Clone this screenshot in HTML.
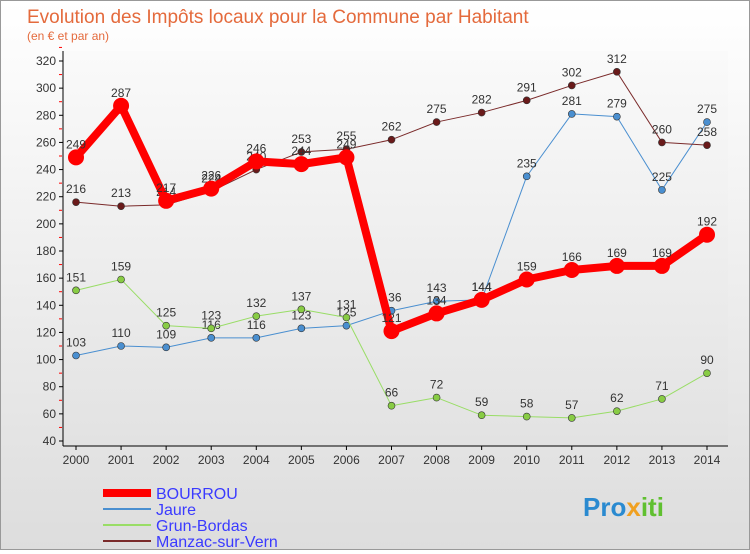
<!DOCTYPE html>
<html><head><meta charset="utf-8"><style>
body{margin:0;width:750px;height:550px;overflow:hidden;font-family:"Liberation Sans",sans-serif;}
#wrap{position:relative;width:748px;height:548px;border:1px solid #999;background:linear-gradient(#fff,#ddd);}
</style></head><body>
<div id="wrap">
<svg id="c" width="748" height="548" xmlns="http://www.w3.org/2000/svg">
<defs><linearGradient id="pg" x1="0" y1="0" x2="0" y2="1"><stop offset="0" stop-color="#fafafa"/><stop offset="1" stop-color="#e2e2e2"/></linearGradient></defs>
<text x="26" y="22" font-size="19" fill="#e46a3c">Evolution des Impôts locaux pour la Commune par Habitant</text>
<text x="26" y="39" font-size="12" fill="#e46a3c">(en € et par an)</text>
<rect x="62" y="50" width="665" height="395" fill="url(#pg)"/>
<g id="axes"></g><g id="series"></g>
<g>
<line x1="102" y1="492" x2="150" y2="492" stroke="#f00" stroke-width="8"/>
<text x="155" y="498" font-size="16" fill="#3a3aff">BOURROU</text>
<line x1="102" y1="508" x2="150" y2="508" stroke="#4a8fd0" stroke-width="2"/>
<text x="155" y="514" font-size="16" fill="#3a3aff">Jaure</text>
<line x1="102" y1="524" x2="150" y2="524" stroke="#99dd66" stroke-width="2"/>
<text x="155" y="530" font-size="16" fill="#3a3aff">Grun-Bordas</text>
<line x1="102" y1="540" x2="150" y2="540" stroke="#7a2a2a" stroke-width="2"/>
<text x="155" y="546" font-size="16" fill="#3a3aff">Manzac-sur-Vern</text>
</g>
<text x="582" y="515" font-size="26" font-weight="bold" fill="#2a8ad0">Pro<tspan fill="#f0a020">x</tspan><tspan fill="#60c030">iti</tspan></text>
</svg>
</div>
<script>
const years=[2000,2001,2002,2003,2004,2005,2006,2007,2008,2009,2010,2011,2012,2013,2014];
const yTicks=[40,60,80,100,120,140,160,180,200,220,240,260,280,300,320];
const bourrou=[249,287,217,226,246,244,249,121,134,144,159,166,169,169,192];
const jaure=[103,110,109,116,116,123,125,136,143,144,235,281,279,225,275];
const grun=[151,159,125,123,132,137,131,66,72,59,58,57,62,71,90];
const manzac=[216,213,214,224,240,253,255,262,275,282,291,302,312,260,258];
const NS="http://www.w3.org/2000/svg";
const X=i=>75+i*(706-75)/14;
const Y=v=>440-(v-40)*(380/280);
function mk(t,a,p){const e=document.createElementNS(NS,t);for(const k in a)e.setAttribute(k,a[k]);p.appendChild(e);return e;}
const ax=document.getElementById('axes');
const yl=mk('line',{x1:62,y1:50,x2:62,y2:445,stroke:'#000'},ax);


const xl=mk('line',{x1:62,y1:445,x2:727,y2:445,stroke:'#000'},ax);


yTicks.forEach(v=>{mk('line',{x1:58,y1:Y(v),x2:62,y2:Y(v),stroke:'#000'},ax);
mk('line',{x1:58,y1:Y(v+10),x2:61,y2:Y(v+10),stroke:'#f00'},ax);
const t=mk('text',{x:55,y:Y(v)+4,'font-size':12,'text-anchor':'end',fill:'#333'},ax);t.textContent=v;

});
years.forEach((y,i)=>{mk('line',{x1:X(i),y1:445,x2:X(i),y2:449,stroke:'#000'},ax);
const t=mk('text',{x:X(i),y:463,'font-size':12,'text-anchor':'middle',fill:'#333'},ax);t.textContent=y;

});
const sg=document.getElementById('series');
function series(name,data,color,w,r,dot){
const g=mk('g',{},sg);


mk('polyline',{points:data.map((v,i)=>X(i)+','+Y(v)).join(' '),fill:'none',stroke:color,'stroke-width':w,'stroke-linejoin':'round'},g);
data.forEach((v,i)=>{const c=mk('circle',{cx:X(i),cy:Y(v),r:r,fill:dot,stroke:'#333','stroke-width':w>3?0:0.6},g);


const t=mk('text',{x:X(i),y:Y(v)-9,'font-size':12,'text-anchor':'middle',fill:'#333'},g);t.textContent=v;

});
}
series('jaure',jaure,'#4a8fd0',1,3.5,'#4a8fd0');
series('grun-bordas',grun,'#99dd66',1,3.5,'#88cc44');
series('manzac',manzac,'#7a2a2a',1,3.5,'#6a1a1a');
series('bourrou',bourrou,'#f00',8,8,'#f00');
</script>
</body></html>
